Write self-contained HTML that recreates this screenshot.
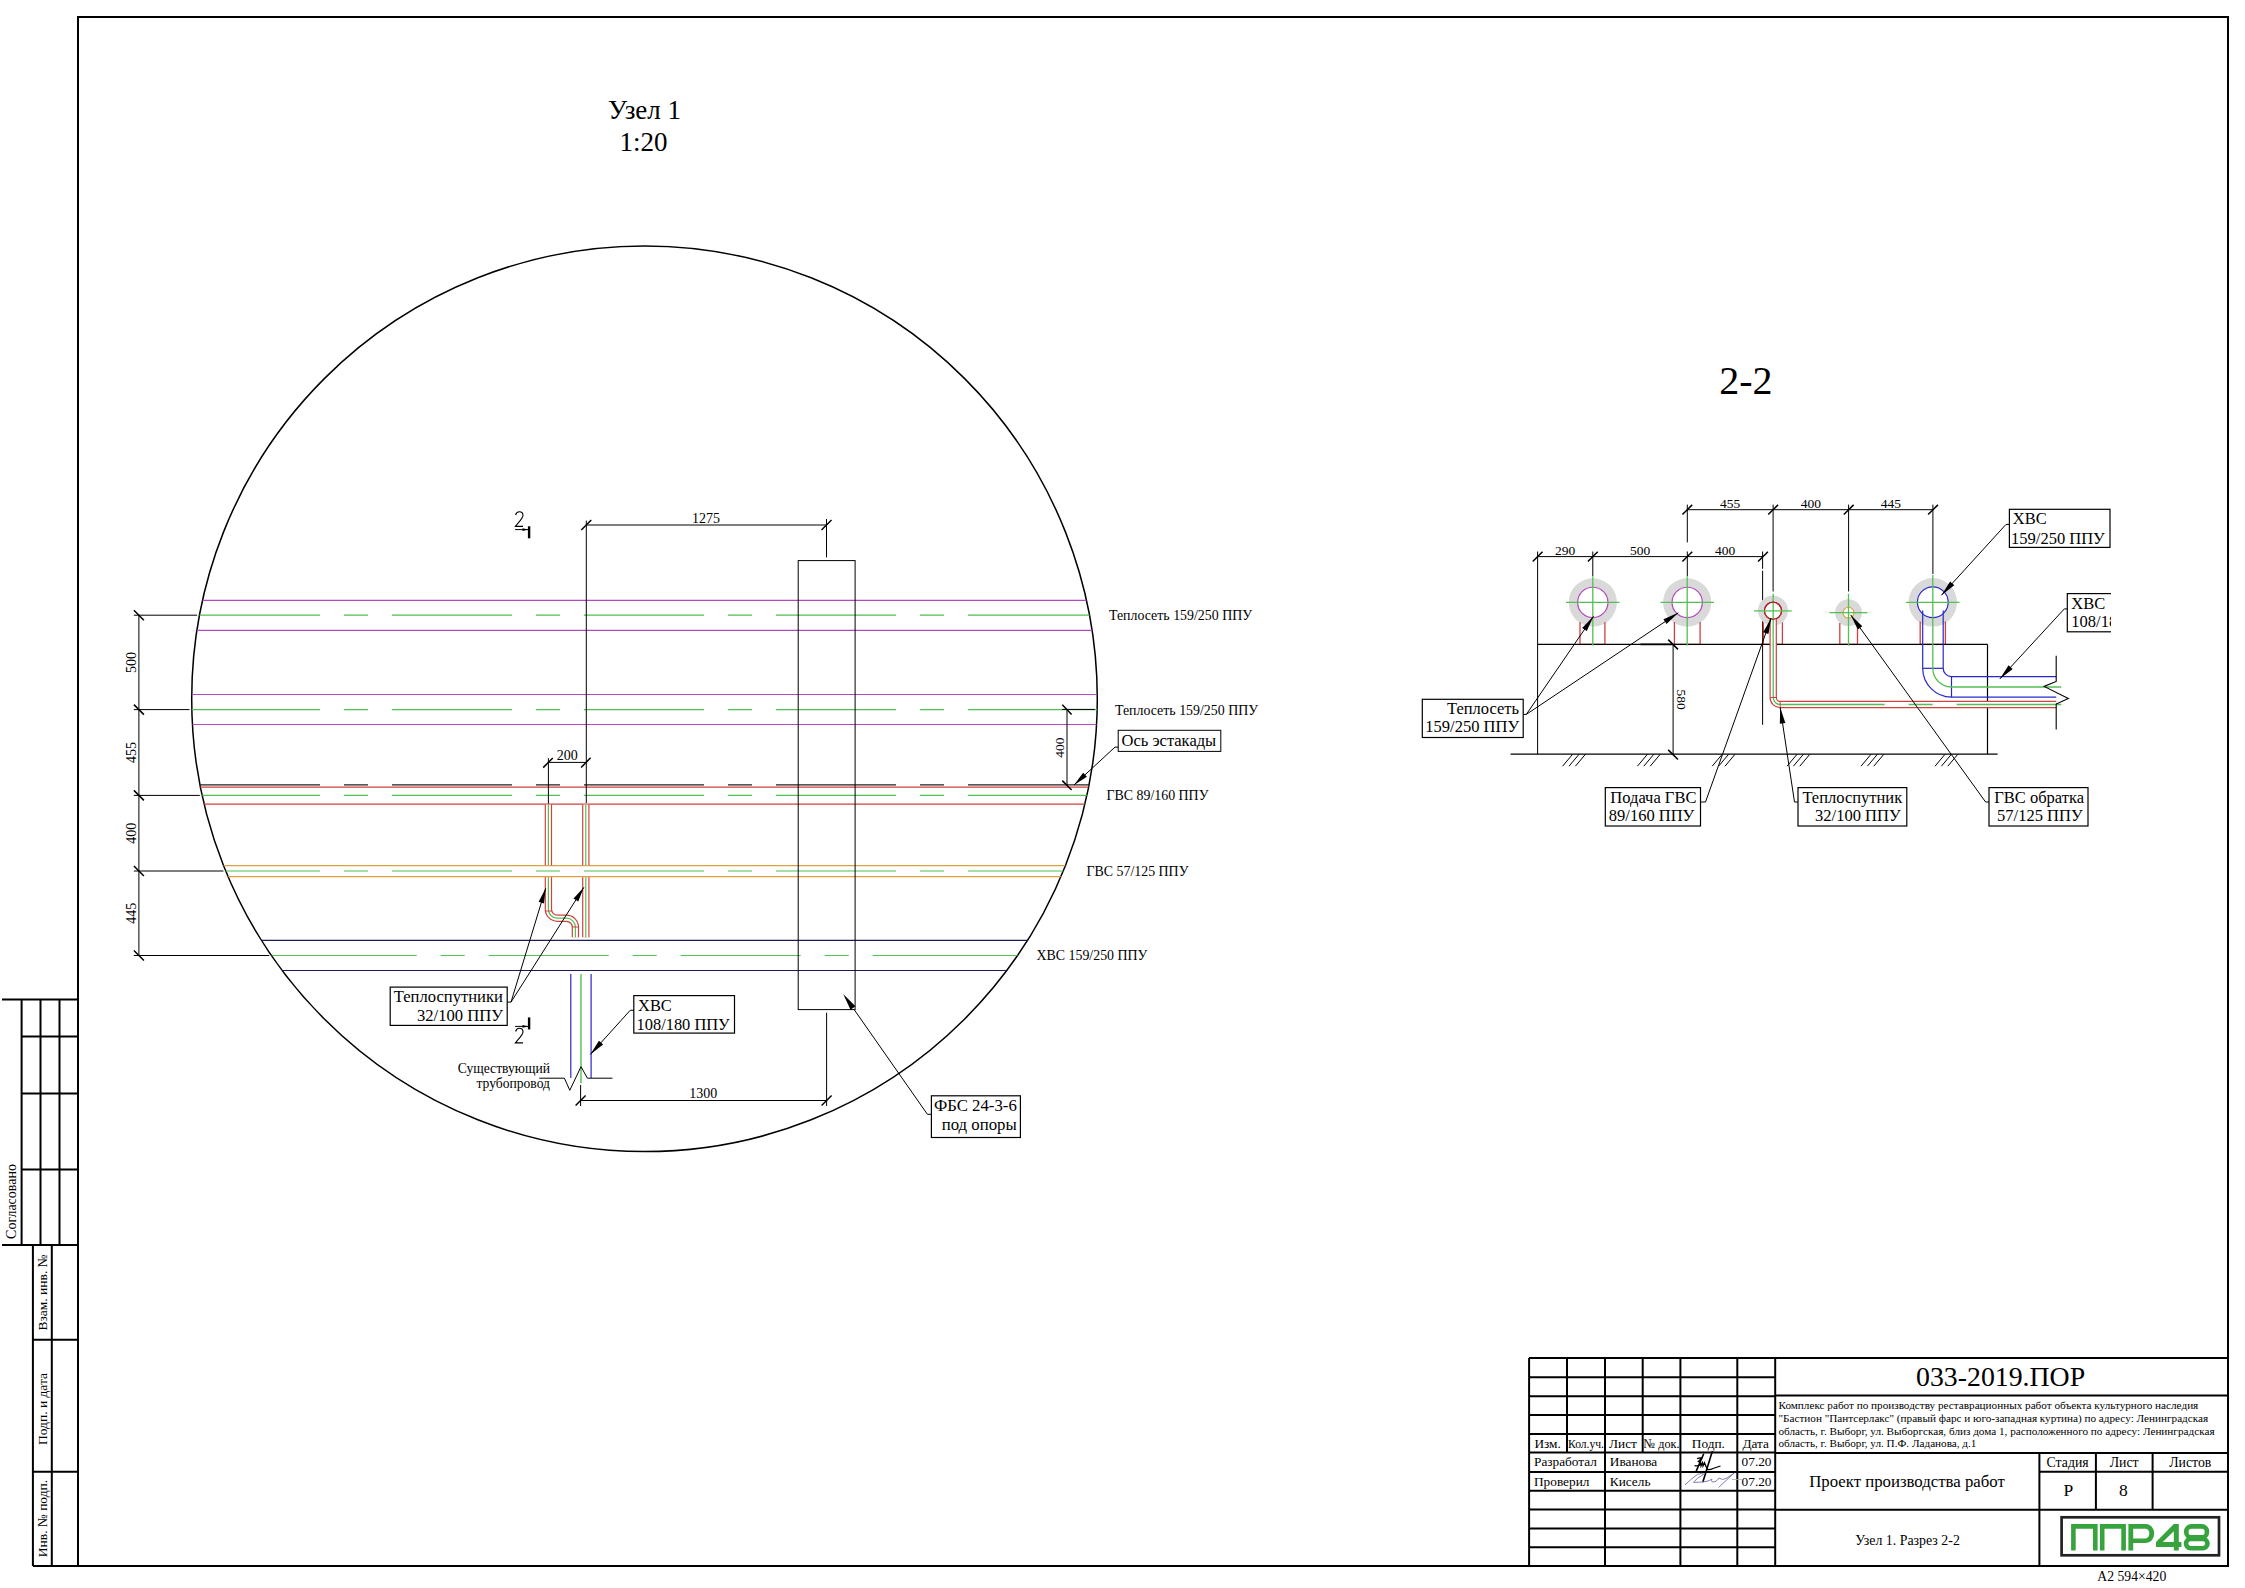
<!DOCTYPE html>
<html><head><meta charset="utf-8"><style>
html,body{margin:0;padding:0;background:#fff;}
body{width:2245px;height:1588px;overflow:hidden;position:relative;}
svg{position:absolute;left:0;top:0;}

</style></head><body>
<svg width="2245" height="1588" viewBox="0 0 2245 1588">
<rect x="78.00" y="17.00" width="2150.00" height="1549.00" stroke="#000" stroke-width="2" fill="none"/>
<line x1="2.00" y1="999.40" x2="78.00" y2="999.40" stroke="#000" stroke-width="2" />
<line x1="21.60" y1="999.40" x2="21.60" y2="1245.00" stroke="#000" stroke-width="2" />
<line x1="40.50" y1="999.40" x2="40.50" y2="1245.00" stroke="#000" stroke-width="2" />
<line x1="59.50" y1="999.40" x2="59.50" y2="1245.00" stroke="#000" stroke-width="2" />
<line x1="21.60" y1="1036.40" x2="78.00" y2="1036.40" stroke="#000" stroke-width="2" />
<line x1="21.60" y1="1093.40" x2="78.00" y2="1093.40" stroke="#000" stroke-width="2" />
<line x1="21.60" y1="1169.40" x2="78.00" y2="1169.40" stroke="#000" stroke-width="2" />
<line x1="2.00" y1="1245.00" x2="78.00" y2="1245.00" stroke="#000" stroke-width="2" />
<line x1="32.90" y1="1245.00" x2="32.90" y2="1566.00" stroke="#000" stroke-width="2" />
<line x1="51.80" y1="1245.00" x2="51.80" y2="1566.00" stroke="#000" stroke-width="2" />
<line x1="32.90" y1="1339.80" x2="78.00" y2="1339.80" stroke="#000" stroke-width="2" />
<line x1="32.90" y1="1471.80" x2="78.00" y2="1471.80" stroke="#000" stroke-width="2" />
<line x1="32.90" y1="1566.00" x2="78.00" y2="1566.00" stroke="#000" stroke-width="2" />
<text x="0.00" y="0.00" font-size="14" text-anchor="middle" fill="#000" font-family="Liberation Serif" transform="translate(15.5,1201.5) rotate(-90)">Согласовано</text>
<text x="0.00" y="0.00" font-size="13.5" text-anchor="middle" fill="#000" font-family="Liberation Serif" transform="translate(46.5,1292.5) rotate(-90)">Взам. инв. №</text>
<text x="0.00" y="0.00" font-size="13.5" text-anchor="middle" fill="#000" font-family="Liberation Serif" transform="translate(46.5,1409) rotate(-90)">Подп. и дата</text>
<text x="0.00" y="0.00" font-size="13.5" text-anchor="middle" fill="#000" font-family="Liberation Serif" transform="translate(46.5,1518.5) rotate(-90)">Инв. № подп.</text>
<line x1="1529.00" y1="1358.00" x2="1775.00" y2="1358.00" stroke="#000" stroke-width="2" />
<line x1="1529.00" y1="1377.30" x2="1775.00" y2="1377.30" stroke="#000" stroke-width="2" />
<line x1="1529.00" y1="1396.20" x2="1775.00" y2="1396.20" stroke="#000" stroke-width="2" />
<line x1="1529.00" y1="1415.00" x2="1775.00" y2="1415.00" stroke="#000" stroke-width="2" />
<line x1="1529.00" y1="1433.90" x2="1775.00" y2="1433.90" stroke="#000" stroke-width="2" />
<line x1="1529.00" y1="1452.60" x2="1775.00" y2="1452.60" stroke="#000" stroke-width="2" />
<line x1="1529.00" y1="1471.90" x2="1775.00" y2="1471.90" stroke="#000" stroke-width="2" />
<line x1="1529.00" y1="1490.80" x2="1775.00" y2="1490.80" stroke="#000" stroke-width="2" />
<line x1="1529.00" y1="1509.60" x2="1775.00" y2="1509.60" stroke="#000" stroke-width="2" />
<line x1="1529.00" y1="1528.50" x2="1775.00" y2="1528.50" stroke="#000" stroke-width="2" />
<line x1="1529.00" y1="1547.20" x2="1775.00" y2="1547.20" stroke="#000" stroke-width="2" />
<line x1="1529.00" y1="1358.00" x2="2228.00" y2="1358.00" stroke="#000" stroke-width="2" />
<line x1="1529.10" y1="1358.00" x2="1529.10" y2="1566.00" stroke="#000" stroke-width="2" />
<line x1="1605.00" y1="1358.00" x2="1605.00" y2="1566.00" stroke="#000" stroke-width="2" />
<line x1="1680.40" y1="1358.00" x2="1680.40" y2="1566.00" stroke="#000" stroke-width="2" />
<line x1="1737.30" y1="1358.00" x2="1737.30" y2="1566.00" stroke="#000" stroke-width="2" />
<line x1="1775.20" y1="1358.00" x2="1775.20" y2="1566.00" stroke="#000" stroke-width="2" />
<line x1="1567.00" y1="1358.00" x2="1567.00" y2="1452.60" stroke="#000" stroke-width="2" />
<line x1="1642.70" y1="1358.00" x2="1642.70" y2="1452.60" stroke="#000" stroke-width="2" />
<line x1="1775.00" y1="1395.50" x2="2228.00" y2="1395.50" stroke="#000" stroke-width="2" />
<line x1="1775.00" y1="1453.00" x2="2228.00" y2="1453.00" stroke="#000" stroke-width="2" />
<line x1="2039.40" y1="1471.70" x2="2228.00" y2="1471.70" stroke="#000" stroke-width="2" />
<line x1="1775.00" y1="1509.80" x2="2228.00" y2="1509.80" stroke="#000" stroke-width="2" />
<line x1="2039.40" y1="1453.00" x2="2039.40" y2="1566.00" stroke="#000" stroke-width="2" />
<line x1="2095.90" y1="1453.00" x2="2095.90" y2="1509.80" stroke="#000" stroke-width="2" />
<line x1="2152.60" y1="1453.00" x2="2152.60" y2="1509.80" stroke="#000" stroke-width="2" />
<text x="1534.40" y="1447.80" font-size="13.3" text-anchor="start" fill="#000" font-family="Liberation Serif" >Изм.</text>
<text x="1568.00" y="1447.80" font-size="13.3" text-anchor="start" fill="#000" font-family="Liberation Serif" textLength="36" lengthAdjust="spacingAndGlyphs">Кол.уч.</text>
<text x="1609.00" y="1447.80" font-size="13.3" text-anchor="start" fill="#000" font-family="Liberation Serif" >Лист</text>
<text x="1643.50" y="1447.80" font-size="13.3" text-anchor="start" fill="#000" font-family="Liberation Serif" textLength="36" lengthAdjust="spacingAndGlyphs">№ док.</text>
<text x="1708.40" y="1447.80" font-size="13.3" text-anchor="middle" fill="#000" font-family="Liberation Serif" >Подп.</text>
<text x="1755.70" y="1447.80" font-size="13.3" text-anchor="middle" fill="#000" font-family="Liberation Serif" >Дата</text>
<text x="1534.00" y="1466.00" font-size="13.3" text-anchor="start" fill="#000" font-family="Liberation Serif" >Разработал</text>
<text x="1609.80" y="1466.00" font-size="13.3" text-anchor="start" fill="#000" font-family="Liberation Serif" >Иванова</text>
<text x="1741.60" y="1466.00" font-size="13.3" text-anchor="start" fill="#000" font-family="Liberation Serif" >07.20</text>
<text x="1534.00" y="1485.50" font-size="13.3" text-anchor="start" fill="#000" font-family="Liberation Serif" >Проверил</text>
<text x="1609.80" y="1485.50" font-size="13.3" text-anchor="start" fill="#000" font-family="Liberation Serif" >Кисель</text>
<text x="1741.60" y="1485.50" font-size="13.3" text-anchor="start" fill="#000" font-family="Liberation Serif" >07.20</text>
<text x="2000.60" y="1386.00" font-size="27.8" text-anchor="middle" fill="#000" font-family="Liberation Serif" >033-2019.ПОР</text>
<text x="1778.50" y="1409.20" font-size="11.2" text-anchor="start" fill="#000" font-family="Liberation Serif" >Комплекс работ по производству реставрационных работ объекта культурного наследия</text>
<text x="1778.50" y="1422.00" font-size="11.2" text-anchor="start" fill="#000" font-family="Liberation Serif" >"Бастион "Пантсерлакс" (правый фарс и юго-западная куртина) по адресу: Ленинградская</text>
<text x="1778.50" y="1434.60" font-size="11.2" text-anchor="start" fill="#000" font-family="Liberation Serif" >область, г. Выборг, ул. Выборгская, близ дома 1, расположенного по адресу: Ленинградская</text>
<text x="1778.50" y="1447.00" font-size="11.2" text-anchor="start" fill="#000" font-family="Liberation Serif" >область, г. Выборг, ул. П.Ф. Ладанова, д.1</text>
<text x="2067.60" y="1467.40" font-size="13.8" text-anchor="middle" fill="#000" font-family="Liberation Serif" >Стадия</text>
<text x="2124.20" y="1467.40" font-size="13.8" text-anchor="middle" fill="#000" font-family="Liberation Serif" >Лист</text>
<text x="2190.30" y="1467.40" font-size="13.8" text-anchor="middle" fill="#000" font-family="Liberation Serif" >Листов</text>
<text x="2068.40" y="1496.00" font-size="17.5" text-anchor="middle" fill="#000" font-family="Liberation Serif" >Р</text>
<text x="2123.40" y="1496.00" font-size="17.5" text-anchor="middle" fill="#000" font-family="Liberation Serif" >8</text>
<text x="1907.00" y="1486.50" font-size="16.8" text-anchor="middle" fill="#000" font-family="Liberation Serif" >Проект производства работ</text>
<text x="1907.50" y="1544.70" font-size="13.9" text-anchor="middle" fill="#000" font-family="Liberation Serif" >Узел 1. Разрез 2-2</text>
<text x="2131.80" y="1580.60" font-size="13.7" text-anchor="middle" fill="#000" font-family="Liberation Serif" >A2 594×420</text>
<rect x="2061.60" y="1517.30" width="157.40" height="38.00" stroke="#222" stroke-width="2.7" fill="none"/>
<path fill="#37a33d" fill-rule="evenodd" d="M2071.1,1550.6 V1524.1 H2097.6 V1550.6 H2093 V1528.7 H2075.7 V1550.6 Z M2099.9,1550.6 V1524.1 H2125.9 V1550.6 H2121.3 V1528.7 H2104.5 V1550.6 Z M2128.4,1550.6 V1524.1 H2146 A8.2 9.45 0 0 1 2154.2,1533.55 A8.2 9.45 0 0 1 2146,1543 H2133.2 V1550.6 Z M2133.2,1528.7 H2145.5 A3.8 4.85 0 0 1 2149.3,1533.55 A3.8 4.85 0 0 1 2145.5,1538.4 H2133.2 Z M2173.8,1524.1 H2178.8 V1542 H2181.4 V1547 H2178.8 V1550.6 H2173.8 V1547 H2156 V1542 Z M2173.8,1531.2 L2162.8,1542 H2173.8 Z"/>
<rect x="2186.3" y="1526.4" width="20.6" height="11" rx="5" fill="none" stroke="#37a33d" stroke-width="4.6"/>
<rect x="2186" y="1538.9" width="21.5" height="9.4" rx="4.7" fill="none" stroke="#37a33d" stroke-width="4.6"/>
<path d="M1712.4,1451.1 L1702.8,1482.3" stroke="#000" stroke-width="1.6" fill="none" />
<path d="M1703.7,1453.9 L1696.2,1471.1" stroke="#000" stroke-width="1.5" fill="none" />
<path d="M1697.1,1458.6 Q1700,1457.5 1701.8,1458 L1698.5,1461.5 Q1702,1462.5 1700.5,1464.5 Q1698,1466.5 1694.5,1465.5" stroke="#000" stroke-width="1.3" fill="none" />
<path d="M1699,1465.5 L1700.5,1462.8 L1701,1466 L1702.5,1462.8 L1703,1466 L1704.5,1462.8 Q1706,1467 1707.5,1469.5 Q1710,1470 1713,1468.5 L1720.5,1466" stroke="#000" stroke-width="1.3" fill="none" />
<path d="M1685,1484.8 Q1691,1479 1697.5,1474.4 Q1702,1472.5 1703.7,1474.2 Q1697,1478 1693.4,1482.3 Q1700,1482.5 1706,1481.5 Q1710,1480.5 1712,1479 Q1710,1482.5 1715,1481.8 Q1718,1480 1719,1478 Q1722,1481 1727,1478 L1734.2,1473" stroke="#7070a8" stroke-width="0.9" fill="none" />
<path d="M1734.2,1473 L1718.5,1487.5" stroke="#7070a8" stroke-width="0.9" fill="none" />
<path d="M1731.8,1479.5 L1741.7,1479.5" stroke="#aaa" stroke-width="0.8" fill="none" />
<text x="644.50" y="118.80" font-size="27" text-anchor="middle" fill="#000" font-family="Liberation Serif" >Узел 1</text>
<text x="643.50" y="151.00" font-size="27" text-anchor="middle" fill="#000" font-family="Liberation Serif" >1:20</text>
<defs><clipPath id="cc"><circle cx="644.5" cy="698.8" r="452.8"/></clipPath></defs>
<circle cx="644.5" cy="698.8" r="452.8" stroke="#000" stroke-width="1.5" fill="none"/>
<g clip-path="url(#cc)">
<line x1="150.00" y1="600.30" x2="1140.00" y2="600.30" stroke="#b448c0" stroke-width="1.2" />
<line x1="150.00" y1="630.30" x2="1140.00" y2="630.30" stroke="#b448c0" stroke-width="1.2" />
<path d="M197.48,615.2 H320.00 M344.00,615.2 H368.00 M392.00,615.2 H512.00 M536.00,615.2 H560.00 M584.00,615.2 H704.00 M728.00,615.2 H752.00 M776.00,615.2 H896.00 M920.00,615.2 H944.00 M968.00,615.2 H1091.52" stroke="#52c052" stroke-width="1.2" fill="none" />
<line x1="150.00" y1="694.50" x2="1140.00" y2="694.50" stroke="#b448c0" stroke-width="1.2" />
<line x1="150.00" y1="724.50" x2="1140.00" y2="724.50" stroke="#b448c0" stroke-width="1.2" />
<path d="M189.83,709.6 H320.00 M344.00,709.6 H368.00 M392.00,709.6 H512.00 M536.00,709.6 H560.00 M584.00,709.6 H704.00 M728.00,709.6 H752.00 M776.00,709.6 H896.00 M920.00,709.6 H944.00 M968.00,709.6 H1099.17" stroke="#52c052" stroke-width="1.2" fill="none" />
<line x1="150.00" y1="787.20" x2="1140.00" y2="787.20" stroke="#d04040" stroke-width="1.2" />
<line x1="150.00" y1="804.20" x2="1140.00" y2="804.20" stroke="#d04040" stroke-width="1.2" />
<path d="M200.12,795.4 H320.00 M344.00,795.4 H368.00 M392.00,795.4 H512.00 M536.00,795.4 H560.00 M584.00,795.4 H704.00 M728.00,795.4 H752.00 M776.00,795.4 H896.00 M920.00,795.4 H944.00 M968.00,795.4 H1088.88" stroke="#52c052" stroke-width="1.2" fill="none" />
<path d="M197.94,784.8 H320.00 M344.00,784.8 H368.00 M392.00,784.8 H512.00 M536.00,784.8 H560.00 M584.00,784.8 H704.00 M728.00,784.8 H752.00 M776.00,784.8 H896.00 M920.00,784.8 H944.00 M968.00,784.8 H1091.06" stroke="#222" stroke-width="1.2" fill="none" />
<line x1="150.00" y1="865.60" x2="1140.00" y2="865.60" stroke="#e0a040" stroke-width="1.2" />
<line x1="150.00" y1="876.60" x2="1140.00" y2="876.60" stroke="#e0a040" stroke-width="1.2" />
<path d="M223.72,871 H320.00 M344.00,871 H368.00 M392.00,871 H512.00 M536.00,871 H560.00 M584.00,871 H704.00 M728.00,871 H752.00 M776.00,871 H896.00 M920.00,871 H944.00 M968.00,871 H1065.28" stroke="#52c052" stroke-width="1.2" fill="none" />
<line x1="150.00" y1="940.30" x2="1140.00" y2="940.30" stroke="#1e1a55" stroke-width="1.2" />
<line x1="150.00" y1="970.50" x2="1140.00" y2="970.50" stroke="#1e1a55" stroke-width="1.2" />
<path d="M269.49,955.5 H416.80 M440.80,955.5 H464.80 M488.80,955.5 H608.80 M632.80,955.5 H656.80 M680.80,955.5 H800.80 M824.80,955.5 H848.80 M872.80,955.5 H1019.51" stroke="#52c052" stroke-width="1.2" fill="none" />
</g>
<line x1="138.90" y1="615.20" x2="138.90" y2="955.50" stroke="#000" stroke-width="1" />
<line x1="133.80" y1="615.20" x2="197.18" y2="615.20" stroke="#000" stroke-width="1" />
<line x1="133.90" y1="610.20" x2="143.90" y2="620.20" stroke="#000" stroke-width="1.5" />
<line x1="133.80" y1="709.60" x2="189.53" y2="709.60" stroke="#000" stroke-width="1" />
<line x1="133.90" y1="704.60" x2="143.90" y2="714.60" stroke="#000" stroke-width="1.5" />
<line x1="133.80" y1="795.40" x2="199.82" y2="795.40" stroke="#000" stroke-width="1" />
<line x1="133.90" y1="790.40" x2="143.90" y2="800.40" stroke="#000" stroke-width="1.5" />
<line x1="133.80" y1="871.00" x2="223.42" y2="871.00" stroke="#000" stroke-width="1" />
<line x1="133.90" y1="866.00" x2="143.90" y2="876.00" stroke="#000" stroke-width="1.5" />
<line x1="133.80" y1="955.50" x2="269.19" y2="955.50" stroke="#000" stroke-width="1" />
<line x1="133.90" y1="950.50" x2="143.90" y2="960.50" stroke="#000" stroke-width="1.5" />
<text x="0.00" y="0.00" font-size="14" text-anchor="middle" fill="#000" font-family="Liberation Serif" transform="translate(136.4,662.4) rotate(-90)">500</text>
<text x="0.00" y="0.00" font-size="14" text-anchor="middle" fill="#000" font-family="Liberation Serif" transform="translate(136.4,752.5) rotate(-90)">455</text>
<text x="0.00" y="0.00" font-size="14" text-anchor="middle" fill="#000" font-family="Liberation Serif" transform="translate(136.4,833.2) rotate(-90)">400</text>
<text x="0.00" y="0.00" font-size="14" text-anchor="middle" fill="#000" font-family="Liberation Serif" transform="translate(136.4,913.2) rotate(-90)">445</text>
<line x1="586.30" y1="520.60" x2="586.30" y2="803.00" stroke="#000" stroke-width="1" />
<line x1="586.30" y1="525.00" x2="826.50" y2="525.00" stroke="#000" stroke-width="1" />
<line x1="826.50" y1="519.00" x2="826.50" y2="557.40" stroke="#000" stroke-width="1" />
<line x1="581.30" y1="530.00" x2="591.30" y2="520.00" stroke="#000" stroke-width="1.5" />
<line x1="821.50" y1="530.00" x2="831.50" y2="520.00" stroke="#000" stroke-width="1.5" />
<text x="706.00" y="523.00" font-size="14" text-anchor="middle" fill="#000" font-family="Liberation Serif" >1275</text>
<rect x="798.20" y="560.60" width="56.90" height="449.00" stroke="#000" stroke-width="1" fill="none"/>
<line x1="580.60" y1="1100.50" x2="826.60" y2="1100.50" stroke="#000" stroke-width="1" />
<line x1="826.60" y1="1012.70" x2="826.60" y2="1106.00" stroke="#000" stroke-width="1" />
<line x1="580.60" y1="1085.00" x2="580.60" y2="1106.00" stroke="#000" stroke-width="1" />
<line x1="575.60" y1="1105.50" x2="585.60" y2="1095.50" stroke="#000" stroke-width="1.5" />
<line x1="821.60" y1="1105.50" x2="831.60" y2="1095.50" stroke="#000" stroke-width="1.5" />
<text x="703.30" y="1098.00" font-size="14" text-anchor="middle" fill="#000" font-family="Liberation Serif" >1300</text>
<text x="1109.00" y="620.00" font-size="13.9" text-anchor="start" fill="#000" font-family="Liberation Serif" >Теплосеть 159/250 ППУ</text>
<text x="1115.00" y="714.70" font-size="13.9" text-anchor="start" fill="#000" font-family="Liberation Serif" >Теплосеть 159/250 ППУ</text>
<text x="1106.50" y="799.90" font-size="13.9" text-anchor="start" fill="#000" font-family="Liberation Serif" >ГВС 89/160 ППУ</text>
<text x="1086.50" y="876.00" font-size="13.9" text-anchor="start" fill="#000" font-family="Liberation Serif" >ГВС 57/125 ППУ</text>
<text x="1036.50" y="959.70" font-size="13.9" text-anchor="start" fill="#000" font-family="Liberation Serif" >ХВС 159/250 ППУ</text>
<rect x="1118.20" y="730.30" width="102.60" height="21.10" stroke="#000" stroke-width="1" fill="none"/>
<text x="1121.60" y="746.00" font-size="16.5" text-anchor="start" fill="#000" font-family="Liberation Serif" >Ось эстакады</text>
<path d="M548.4,804.6 V865.2" stroke="#d04040" stroke-width="7.4" fill="none" stroke-linejoin="round"/>
<path d="M548.4,804.6 V865.2" stroke="#fff" stroke-width="5.0" fill="none" />
<path d="M548.4,804.6 V865.2" stroke="#52c052" stroke-width="1.2" fill="none" />
<path d="M548.4,877.2 V909 A9 9 0 0 0 557.4,918.2 H566.4 A9 9 0 0 1 575.4,927.2 V937.2" stroke="#d04040" stroke-width="7.4" fill="none" stroke-linejoin="round"/>
<path d="M548.4,877.2 V909 A9 9 0 0 0 557.4,918.2 H566.4 A9 9 0 0 1 575.4,927.2 V937.2" stroke="#fff" stroke-width="5.0" fill="none" />
<path d="M548.4,877.2 V909 A9 9 0 0 0 557.4,918.2 H566.4 A9 9 0 0 1 575.4,927.2 V937.2" stroke="#52c052" stroke-width="1.2" fill="none" />
<path d="M585.8,804.6 V865.2" stroke="#d04040" stroke-width="7.4" fill="none" stroke-linejoin="round"/>
<path d="M585.8,804.6 V865.2" stroke="#fff" stroke-width="5.0" fill="none" />
<path d="M585.8,804.6 V865.2" stroke="#52c052" stroke-width="1.2" fill="none" />
<path d="M585.8,877.2 V937.2" stroke="#d04040" stroke-width="7.4" fill="none" stroke-linejoin="round"/>
<path d="M585.8,877.2 V937.2" stroke="#fff" stroke-width="5.0" fill="none" />
<path d="M585.8,877.2 V937.2" stroke="#52c052" stroke-width="1.2" fill="none" />
<line x1="545.00" y1="911.00" x2="551.80" y2="911.00" stroke="#d04040" stroke-width="1" />
<line x1="572.00" y1="927.00" x2="578.80" y2="927.00" stroke="#d04040" stroke-width="1" />
<line x1="548.40" y1="758.20" x2="548.40" y2="803.70" stroke="#000" stroke-width="1" />
<line x1="548.40" y1="762.40" x2="586.30" y2="762.40" stroke="#000" stroke-width="1" />
<line x1="543.20" y1="767.60" x2="552.80" y2="758.00" stroke="#000" stroke-width="1.5" />
<line x1="581.10" y1="767.60" x2="590.60" y2="757.80" stroke="#000" stroke-width="1.5" />
<text x="567.20" y="759.80" font-size="14" text-anchor="middle" fill="#000" font-family="Liberation Serif" >200</text>
<line x1="570.80" y1="973.90" x2="570.80" y2="1078.00" stroke="#2828c8" stroke-width="1.2" />
<line x1="591.10" y1="973.90" x2="591.10" y2="1078.00" stroke="#2828c8" stroke-width="1.2" />
<line x1="581.00" y1="973.90" x2="581.00" y2="1083.30" stroke="#52c052" stroke-width="1.4" />
<path d="M539.3,1078.2 H564.4 L569.8,1090.3 L581,1066.7 L587.4,1078.2 H612.5" stroke="#000" stroke-width="1" fill="none" />
<line x1="529.10" y1="526.30" x2="529.10" y2="538.30" stroke="#000" stroke-width="2.4" />
<line x1="515.10" y1="529.60" x2="528.00" y2="529.60" stroke="#000" stroke-width="1" />
<path d="M528.50,529.60 L522.50,528.30 L522.50,530.90 Z" fill="#000" stroke="none"/>
<path d="M515.6,515.00 C516.2,512.60 517.8,511.80 519.3,511.80 C521.5,511.80 523,513.20 523,515.40 C523,517.80 520,520.80 515.4,526.40 L523,526.40" stroke="#000" stroke-width="1.1" fill="none" />
<line x1="529.10" y1="1017.40" x2="529.10" y2="1029.40" stroke="#000" stroke-width="2.4" />
<line x1="515.10" y1="1026.40" x2="528.00" y2="1026.40" stroke="#000" stroke-width="1" />
<path d="M528.50,1026.40 L522.50,1025.10 L522.50,1027.70 Z" fill="#000" stroke="none"/>
<path d="M515.6,1031.50 C516.2,1029.10 517.8,1028.30 519.3,1028.30 C521.5,1028.30 523,1029.70 523,1031.90 C523,1034.30 520,1037.30 515.4,1042.90 L523,1042.90" stroke="#000" stroke-width="1.1" fill="none" />
<rect x="390.20" y="987.10" width="117.00" height="38.30" stroke="#000" stroke-width="1.2" fill="none"/>
<text x="502.90" y="1001.90" font-size="16.6" text-anchor="end" fill="#000" font-family="Liberation Serif" >Теплоспутники</text>
<text x="502.90" y="1020.80" font-size="16.6" text-anchor="end" fill="#000" font-family="Liberation Serif" >32/100 ППУ</text>
<line x1="507.20" y1="1002.10" x2="511.00" y2="1002.10" stroke="#000" stroke-width="1" />
<line x1="511.00" y1="1002.10" x2="545.70" y2="888.30" stroke="#000" stroke-width="1" />
<line x1="511.00" y1="1002.10" x2="583.90" y2="887.30" stroke="#000" stroke-width="1" />
<path d="M545.70,888.30 L538.65,901.83 L544.00,903.46 Z" fill="#000" stroke="none"/>
<path d="M583.90,887.30 L573.50,898.46 L578.22,901.46 Z" fill="#000" stroke="none"/>
<rect x="633.80" y="995.60" width="100.70" height="37.50" stroke="#000" stroke-width="1.2" fill="none"/>
<text x="638.10" y="1010.70" font-size="16.4" text-anchor="start" fill="#000" font-family="Liberation Serif" >ХВС</text>
<text x="729.70" y="1029.60" font-size="16.4" text-anchor="end" fill="#000" font-family="Liberation Serif" >108/180 ППУ</text>
<line x1="633.80" y1="1010.30" x2="630.20" y2="1010.30" stroke="#000" stroke-width="1" />
<line x1="630.20" y1="1010.30" x2="590.30" y2="1054.50" stroke="#000" stroke-width="1" />
<path d="M590.30,1054.50 L603.10,1044.50 L598.94,1040.75 Z" fill="#000" stroke="none"/>
<text x="550.00" y="1072.60" font-size="13.6" text-anchor="end" fill="#000" font-family="Liberation Serif" >Существующий</text>
<text x="550.00" y="1088.10" font-size="13.6" text-anchor="end" fill="#000" font-family="Liberation Serif" >трубопровод</text>
<rect x="931.40" y="1095.80" width="89.00" height="41.70" stroke="#000" stroke-width="1.2" fill="none"/>
<text x="1016.80" y="1111.10" font-size="16.8" text-anchor="end" fill="#000" font-family="Liberation Serif" >ФБС 24-3-6</text>
<text x="1016.80" y="1130.00" font-size="16.8" text-anchor="end" fill="#000" font-family="Liberation Serif" >под опоры</text>
<line x1="931.40" y1="1114.30" x2="927.40" y2="1114.30" stroke="#000" stroke-width="1" />
<line x1="927.40" y1="1114.30" x2="854.30" y2="1009.80" stroke="#000" stroke-width="1" />
<path d="M843.20,994.00 L850.52,1009.63 L855.43,1006.19 Z" fill="#000" stroke="none"/>
<line x1="1067.00" y1="709.40" x2="1067.00" y2="785.30" stroke="#000" stroke-width="1" />
<line x1="1062.00" y1="709.40" x2="1094.80" y2="709.40" stroke="#000" stroke-width="1" />
<line x1="1062.30" y1="704.70" x2="1071.60" y2="714.40" stroke="#000" stroke-width="1.5" />
<line x1="1062.30" y1="780.60" x2="1071.60" y2="790.00" stroke="#000" stroke-width="1.5" />
<text x="0.00" y="0.00" font-size="13.5" text-anchor="middle" fill="#000" font-family="Liberation Serif" transform="translate(1063.5,747.5) rotate(-90)">400</text>
<line x1="1118.40" y1="747.10" x2="1115.00" y2="747.10" stroke="#000" stroke-width="1" />
<line x1="1115.00" y1="747.10" x2="1074.00" y2="785.00" stroke="#000" stroke-width="1" />
<path d="M1074.00,785.00 L1086.92,776.87 L1083.11,772.76 Z" fill="#000" stroke="none"/>
<text x="1745.80" y="393.70" font-size="40" text-anchor="middle" fill="#000" font-family="Liberation Serif" >2-2</text>
<defs><clipPath id="c22"><rect x="1400" y="300" width="711" height="600"/></clipPath></defs>
<g clip-path="url(#c22)">
<line x1="1537.60" y1="556.60" x2="1763.00" y2="556.60" stroke="#000" stroke-width="1" />
<line x1="1532.70" y1="561.45" x2="1542.50" y2="551.75" stroke="#000" stroke-width="1.5" />
<line x1="1587.90" y1="561.45" x2="1597.70" y2="551.75" stroke="#000" stroke-width="1.5" />
<line x1="1682.40" y1="561.45" x2="1692.20" y2="551.75" stroke="#000" stroke-width="1.5" />
<line x1="1758.10" y1="561.45" x2="1767.90" y2="551.75" stroke="#000" stroke-width="1.5" />
<text x="1565.00" y="554.70" font-size="13.5" text-anchor="middle" fill="#000" font-family="Liberation Serif" >290</text>
<text x="1640.00" y="554.70" font-size="13.5" text-anchor="middle" fill="#000" font-family="Liberation Serif" >500</text>
<text x="1725.00" y="554.70" font-size="13.5" text-anchor="middle" fill="#000" font-family="Liberation Serif" >400</text>
<line x1="1687.30" y1="509.70" x2="1933.00" y2="509.70" stroke="#000" stroke-width="1" />
<line x1="1682.40" y1="514.55" x2="1692.20" y2="504.85" stroke="#000" stroke-width="1.5" />
<line x1="1768.20" y1="514.55" x2="1778.00" y2="504.85" stroke="#000" stroke-width="1.5" />
<line x1="1843.80" y1="514.55" x2="1853.60" y2="504.85" stroke="#000" stroke-width="1.5" />
<line x1="1928.10" y1="514.55" x2="1937.90" y2="504.85" stroke="#000" stroke-width="1.5" />
<text x="1730.00" y="508.00" font-size="13.5" text-anchor="middle" fill="#000" font-family="Liberation Serif" >455</text>
<text x="1810.90" y="508.00" font-size="13.5" text-anchor="middle" fill="#000" font-family="Liberation Serif" >400</text>
<text x="1890.80" y="508.00" font-size="13.5" text-anchor="middle" fill="#000" font-family="Liberation Serif" >445</text>
<line x1="1537.60" y1="551.50" x2="1537.60" y2="754.10" stroke="#000" stroke-width="1" />
<line x1="1592.80" y1="551.50" x2="1592.80" y2="576.40" stroke="#000" stroke-width="1" />
<line x1="1687.30" y1="504.60" x2="1687.30" y2="542.40" stroke="#000" stroke-width="1" />
<line x1="1687.30" y1="551.50" x2="1687.30" y2="576.40" stroke="#000" stroke-width="1" />
<line x1="1762.60" y1="551.50" x2="1762.60" y2="568.80" stroke="#000" stroke-width="1" />
<line x1="1762.60" y1="570.70" x2="1762.60" y2="724.80" stroke="#000" stroke-width="1" />
<line x1="1773.10" y1="504.60" x2="1773.10" y2="591.50" stroke="#000" stroke-width="1" />
<line x1="1848.60" y1="504.60" x2="1848.60" y2="591.50" stroke="#000" stroke-width="1" />
<line x1="1932.90" y1="504.60" x2="1932.90" y2="574.10" stroke="#000" stroke-width="1" />
<circle cx="1592.8" cy="602.4" r="24.1" fill="#d9d9d9"/>
<circle cx="1687.2" cy="602.4" r="24.1" fill="#d9d9d9"/>
<circle cx="1773" cy="610.6" r="15" fill="#d9d9d9"/>
<circle cx="1848.5" cy="612.7" r="13.4" fill="#d9d9d9"/>
<circle cx="1932.8" cy="602.3" r="24.2" fill="#d9d9d9"/>
<line x1="1580.00" y1="622.00" x2="1580.00" y2="644.40" stroke="#d04040" stroke-width="1.3" />
<line x1="1604.90" y1="622.00" x2="1604.90" y2="644.40" stroke="#d04040" stroke-width="1.3" />
<line x1="1580.00" y1="644.40" x2="1604.90" y2="644.40" stroke="#d04040" stroke-width="1.3" />
<line x1="1674.40" y1="622.00" x2="1674.40" y2="644.40" stroke="#d04040" stroke-width="1.3" />
<line x1="1700.10" y1="622.00" x2="1700.10" y2="644.40" stroke="#d04040" stroke-width="1.3" />
<line x1="1674.40" y1="644.40" x2="1700.10" y2="644.40" stroke="#d04040" stroke-width="1.3" />
<line x1="1763.40" y1="622.40" x2="1763.40" y2="644.40" stroke="#d04040" stroke-width="1.3" />
<line x1="1782.40" y1="622.40" x2="1782.40" y2="644.40" stroke="#d04040" stroke-width="1.3" />
<line x1="1763.40" y1="644.40" x2="1782.40" y2="644.40" stroke="#d04040" stroke-width="1.3" />
<line x1="1839.80" y1="623.00" x2="1839.80" y2="644.40" stroke="#d04040" stroke-width="1.3" />
<line x1="1857.50" y1="623.00" x2="1857.50" y2="644.40" stroke="#d04040" stroke-width="1.3" />
<line x1="1839.80" y1="644.40" x2="1857.50" y2="644.40" stroke="#d04040" stroke-width="1.3" />
<line x1="1920.20" y1="621.50" x2="1920.20" y2="644.40" stroke="#d04040" stroke-width="1.3" />
<line x1="1945.40" y1="621.50" x2="1945.40" y2="644.40" stroke="#d04040" stroke-width="1.3" />
<line x1="1920.20" y1="644.40" x2="1945.40" y2="644.40" stroke="#d04040" stroke-width="1.3" />
<line x1="1537.60" y1="644.40" x2="1987.50" y2="644.40" stroke="#000" stroke-width="1.2" />
<line x1="1987.50" y1="644.40" x2="1987.50" y2="754.10" stroke="#000" stroke-width="1.2" />
<line x1="1510.60" y1="754.10" x2="1997.60" y2="754.10" stroke="#000" stroke-width="1.2" />
<line x1="1562.60" y1="766.20" x2="1572.60" y2="754.30" stroke="#000" stroke-width="1" />
<line x1="1569.00" y1="766.20" x2="1579.00" y2="754.30" stroke="#000" stroke-width="1" />
<line x1="1575.40" y1="766.20" x2="1585.40" y2="754.30" stroke="#000" stroke-width="1" />
<line x1="1637.40" y1="766.20" x2="1647.40" y2="754.30" stroke="#000" stroke-width="1" />
<line x1="1643.80" y1="766.20" x2="1653.80" y2="754.30" stroke="#000" stroke-width="1" />
<line x1="1650.20" y1="766.20" x2="1660.20" y2="754.30" stroke="#000" stroke-width="1" />
<line x1="1712.20" y1="766.20" x2="1722.20" y2="754.30" stroke="#000" stroke-width="1" />
<line x1="1718.60" y1="766.20" x2="1728.60" y2="754.30" stroke="#000" stroke-width="1" />
<line x1="1725.00" y1="766.20" x2="1735.00" y2="754.30" stroke="#000" stroke-width="1" />
<line x1="1787.00" y1="766.20" x2="1797.00" y2="754.30" stroke="#000" stroke-width="1" />
<line x1="1793.40" y1="766.20" x2="1803.40" y2="754.30" stroke="#000" stroke-width="1" />
<line x1="1799.80" y1="766.20" x2="1809.80" y2="754.30" stroke="#000" stroke-width="1" />
<line x1="1861.00" y1="766.20" x2="1871.00" y2="754.30" stroke="#000" stroke-width="1" />
<line x1="1867.40" y1="766.20" x2="1877.40" y2="754.30" stroke="#000" stroke-width="1" />
<line x1="1873.80" y1="766.20" x2="1883.80" y2="754.30" stroke="#000" stroke-width="1" />
<line x1="1935.00" y1="766.20" x2="1945.00" y2="754.30" stroke="#000" stroke-width="1" />
<line x1="1941.40" y1="766.20" x2="1951.40" y2="754.30" stroke="#000" stroke-width="1" />
<line x1="1947.80" y1="766.20" x2="1957.80" y2="754.30" stroke="#000" stroke-width="1" />
<line x1="1673.10" y1="644.10" x2="1673.10" y2="754.30" stroke="#000" stroke-width="1" />
<line x1="1640.50" y1="644.40" x2="1673.10" y2="644.40" stroke="#000" stroke-width="1.6" />
<line x1="1668.20" y1="639.65" x2="1678.00" y2="649.35" stroke="#000" stroke-width="1.5" />
<line x1="1668.20" y1="749.85" x2="1678.00" y2="759.55" stroke="#000" stroke-width="1.5" />
<text x="0.00" y="0.00" font-size="13.5" text-anchor="middle" fill="#000" font-family="Liberation Serif" transform="translate(1676.5,699.7) rotate(90)">580</text>
<circle cx="1592.8" cy="602.4" r="15.15" fill="#fff" stroke="#b448c0" stroke-width="1.2"/>
<circle cx="1687.2" cy="602.4" r="15.15" fill="#fff" stroke="#b448c0" stroke-width="1.2"/>
<circle cx="1773" cy="610.8" r="8.6" fill="#fff" stroke="#b02020" stroke-width="1.2"/>
<circle cx="1848.5" cy="612.7" r="5.45" fill="#fff" stroke="#e0a040" stroke-width="1.2"/>
<path d="M1773.2,619 V697.5 A7 7 0 0 0 1780.2,704.5 H2056.2" stroke="#d04040" stroke-width="7.4" fill="none" />
<path d="M1773.2,619 V697.5 A7 7 0 0 0 1780.2,704.5 H2056.2" stroke="#fff" stroke-width="5.0" fill="none" />
<line x1="1773.20" y1="593.70" x2="1773.20" y2="697.50" stroke="#52c052" stroke-width="1.3" />
<path d="M1773.2,697.5 A7 7 0 0 0 1780.2,704.5" stroke="#52c052" stroke-width="1.3" fill="none" />
<path d="M1780.2,704.5 H1884.6 M1908.6,704.5 H1932.6 M1956.6,704.5 H2061.3" stroke="#52c052" stroke-width="1.3" fill="none" />
<line x1="1770.30" y1="697.50" x2="1776.50" y2="697.50" stroke="#d04040" stroke-width="1" />
<line x1="1780.20" y1="701.00" x2="1780.20" y2="708.00" stroke="#d04040" stroke-width="1" />
<circle cx="1773" cy="610.8" r="8.6" fill="none" stroke="#b02020" stroke-width="1.2"/>
<line x1="1566.00" y1="602.40" x2="1619.50" y2="602.40" stroke="#52c052" stroke-width="1.3" />
<line x1="1592.80" y1="576.40" x2="1592.80" y2="645.60" stroke="#52c052" stroke-width="1.3" />
<line x1="1660.50" y1="602.40" x2="1714.00" y2="602.40" stroke="#52c052" stroke-width="1.3" />
<line x1="1687.20" y1="576.40" x2="1687.20" y2="645.60" stroke="#52c052" stroke-width="1.3" />
<line x1="1754.00" y1="610.80" x2="1791.70" y2="610.80" stroke="#52c052" stroke-width="1.3" />
<line x1="1829.50" y1="612.70" x2="1867.50" y2="612.70" stroke="#52c052" stroke-width="1.3" />
<line x1="1848.50" y1="593.70" x2="1848.50" y2="645.70" stroke="#52c052" stroke-width="1.3" />
<circle cx="1932.8" cy="602.3" r="15.4" fill="#fff" stroke="#2828c8" stroke-width="1.2"/>
<path d="M1922.7,610.4 V668.3 A29 29 0 0 0 1951.5,697.2 H2056.2" stroke="#2828c8" stroke-width="1.2" fill="none" />
<path d="M1943.2,610.4 V668.3 A8.3 8.3 0 0 0 1951.5,676.6 H2056.2" stroke="#2828c8" stroke-width="1.2" fill="none" />
<line x1="1922.70" y1="668.30" x2="1943.20" y2="668.30" stroke="#2828c8" stroke-width="1.2" />
<line x1="1951.50" y1="676.60" x2="1951.50" y2="697.20" stroke="#2828c8" stroke-width="1.2" />
<path d="M1932.8,575 V668.3 A18.7 18.7 0 0 0 1951.5,687 H2061.3" stroke="#52c052" stroke-width="1.3" fill="none" />
<line x1="1906.10" y1="602.30" x2="1959.50" y2="602.30" stroke="#52c052" stroke-width="1.3" />
<path d="M2056.2,655.7 V681.4 L2044.1,686.4 L2068.3,698.5 L2056.2,704.1 V729.5" stroke="#000" stroke-width="1.1" fill="none" />
<rect x="1422.30" y="699.30" width="100.90" height="38.20" stroke="#000" stroke-width="1.2" fill="none"/>
<text x="1519.10" y="714.00" font-size="16.5" text-anchor="end" fill="#000" font-family="Liberation Serif" >Теплосеть</text>
<text x="1519.10" y="732.40" font-size="16.5" text-anchor="end" fill="#000" font-family="Liberation Serif" >159/250 ППУ</text>
<line x1="1523.20" y1="714.40" x2="1526.30" y2="714.40" stroke="#000" stroke-width="1" />
<line x1="1526.30" y1="714.40" x2="1593.50" y2="616.30" stroke="#000" stroke-width="1" />
<path d="M1593.50,616.30 L1582.15,627.92 L1586.77,631.08 Z" fill="#000" stroke="none"/>
<line x1="1526.30" y1="714.40" x2="1678.30" y2="612.80" stroke="#000" stroke-width="1" />
<path d="M1678.30,612.80 L1663.44,619.36 L1666.55,624.02 Z" fill="#000" stroke="none"/>
<rect x="1605.30" y="787.60" width="95.20" height="38.40" stroke="#000" stroke-width="1.2" fill="none"/>
<text x="1696.40" y="802.80" font-size="16.5" text-anchor="end" fill="#000" font-family="Liberation Serif" >Подача ГВС</text>
<text x="1694.30" y="821.00" font-size="16.5" text-anchor="end" fill="#000" font-family="Liberation Serif" >89/160 ППУ</text>
<line x1="1700.50" y1="802.00" x2="1705.50" y2="802.00" stroke="#000" stroke-width="1" />
<line x1="1705.50" y1="802.00" x2="1771.20" y2="618.00" stroke="#000" stroke-width="1" />
<path d="M1771.20,618.00 L1763.18,632.13 L1768.46,634.01 Z" fill="#000" stroke="none"/>
<rect x="1798.00" y="787.60" width="108.80" height="38.40" stroke="#000" stroke-width="1.2" fill="none"/>
<text x="1902.20" y="802.80" font-size="16.5" text-anchor="end" fill="#000" font-family="Liberation Serif" >Теплоспутник</text>
<text x="1900.60" y="821.00" font-size="16.5" text-anchor="end" fill="#000" font-family="Liberation Serif" >32/100 ППУ</text>
<line x1="1798.00" y1="802.00" x2="1794.50" y2="802.00" stroke="#000" stroke-width="1" />
<line x1="1794.50" y1="802.00" x2="1780.20" y2="707.60" stroke="#000" stroke-width="1" />
<path d="M1780.20,707.60 L1779.83,723.84 L1785.36,723.00 Z" fill="#000" stroke="none"/>
<rect x="1989.00" y="787.60" width="99.00" height="38.40" stroke="#000" stroke-width="1.2" fill="none"/>
<text x="2084.00" y="802.80" font-size="16.5" text-anchor="end" fill="#000" font-family="Liberation Serif" >ГВС обратка</text>
<text x="2082.60" y="821.00" font-size="16.5" text-anchor="end" fill="#000" font-family="Liberation Serif" >57/125 ППУ</text>
<line x1="1989.00" y1="802.00" x2="1985.60" y2="802.00" stroke="#000" stroke-width="1" />
<line x1="1985.60" y1="802.00" x2="1850.70" y2="614.90" stroke="#000" stroke-width="1" />
<path d="M1850.70,614.90 L1857.79,629.52 L1862.33,626.24 Z" fill="#000" stroke="none"/>
<rect x="2009.40" y="509.30" width="100.60" height="38.10" stroke="#000" stroke-width="1.2" fill="none"/>
<text x="2012.80" y="523.50" font-size="16.5" text-anchor="start" fill="#000" font-family="Liberation Serif" >ХВС</text>
<text x="2104.80" y="543.50" font-size="16.5" text-anchor="end" fill="#000" font-family="Liberation Serif" >159/250 ППУ</text>
<line x1="2009.40" y1="524.40" x2="2006.00" y2="524.40" stroke="#000" stroke-width="1" />
<line x1="2006.00" y1="524.40" x2="1941.40" y2="595.30" stroke="#000" stroke-width="1" />
<path d="M1941.40,595.30 L1954.25,585.36 L1950.11,581.59 Z" fill="#000" stroke="none"/>
<rect x="2067.30" y="593.60" width="100.00" height="38.20" stroke="#000" stroke-width="1.2" fill="none"/>
<text x="2071.30" y="608.50" font-size="16.5" text-anchor="start" fill="#000" font-family="Liberation Serif" >ХВС</text>
<text x="2071.30" y="627.40" font-size="16.5" text-anchor="start" fill="#000" font-family="Liberation Serif" >108/180 ППУ</text>
<line x1="2067.30" y1="608.90" x2="2064.30" y2="608.90" stroke="#000" stroke-width="1" />
<line x1="2064.30" y1="608.90" x2="1999.80" y2="678.90" stroke="#000" stroke-width="1" />
<path d="M1999.80,678.90 L2012.70,669.03 L2008.58,665.24 Z" fill="#000" stroke="none"/>
</g>
</svg></body></html>
